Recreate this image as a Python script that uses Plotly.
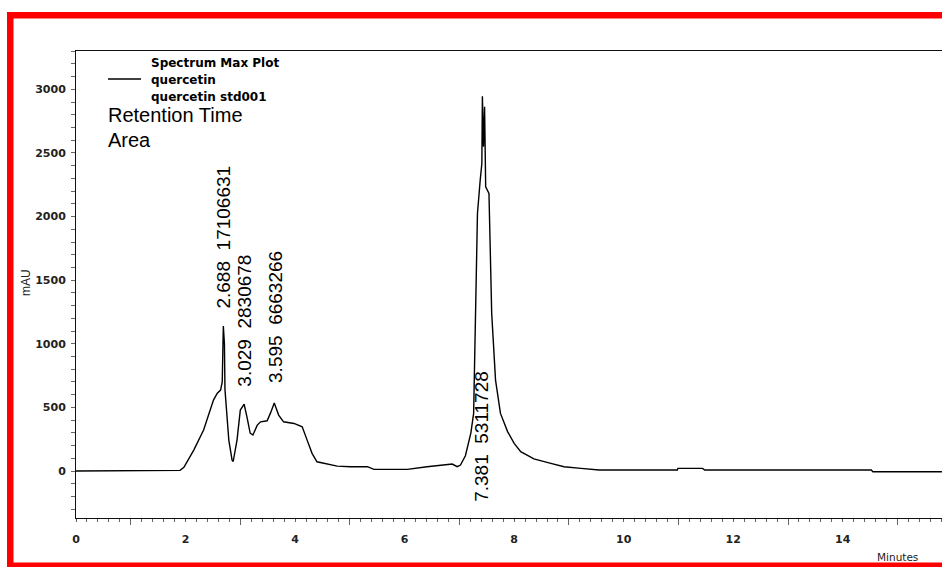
import plotly.graph_objects as go

# ---- data ----
time_min = [0, 1.90, 1.97, 2.15, 2.33, 2.51, 2.58, 2.64, 2.67, 2.69, 2.71, 2.72, 2.79, 2.85,
            2.87, 2.94, 3.00, 3.05, 3.07, 3.12, 3.18, 3.23, 3.31, 3.37, 3.49, 3.55, 3.62,
            3.70, 3.79, 3.98, 4.13, 4.22, 4.31, 4.40, 4.52, 4.77, 5.01, 5.32, 5.44, 6.05,
            6.41, 6.72, 6.87, 6.96, 7.02, 7.11, 7.18, 7.21, 7.26, 7.28, 7.30, 7.33, 7.38,
            7.41, 7.42, 7.44, 7.46, 7.48, 7.54, 7.56, 7.59, 7.66, 7.75, 7.88, 8.00, 8.12,
            8.36, 8.67, 8.91, 9.22, 9.55, 10.98, 10.99, 11.44, 11.48, 14.52, 14.55, 15.81]
mau = [0, 5, 30, 165, 322, 558, 612, 636, 700, 1140, 1000, 640, 243, 86,
       75, 243, 479, 518, 525, 427, 298, 283, 361, 387, 395, 455, 535,
       440, 387, 374, 348, 243, 139, 73, 60, 39, 34, 34, 13, 13,
       34, 47, 55, 34, 47, 120, 250, 300, 453, 846, 1500, 2024, 2286,
       2417, 2946, 2548, 2862, 2233, 2181, 1762, 1239, 715, 453, 310, 218, 152,
       95, 60, 34, 21, 8, 8, 21, 21, 8, 8, -5, -5]

peak_rt = [2.688, 3.029, 3.595, 7.381]
peak_area = [17106631, 2830678, 6663266, 5311728]
label_base = [1260, 645, 675, -255]          # mAU where each rotated label starts
label_x = [2.69, 3.08, 3.63, 7.41]

y_major = [0, 500, 1000, 1500, 2000, 2500, 3000]
x_major = [0, 2, 4, 6, 8, 10, 12, 14]
x_odd = [1, 3, 5, 7, 9, 11, 13, 15]

W, H = 942, 568
L, R, T, B = 76, 0, 51, 50
PW, PH = W - L - R, H - T - B

def px(xp):
    return (xp - L) / PW

def py(yp):
    return (H - B - yp) / PH

FONT = "Arial, Liberation Sans, sans-serif"
BFONT = "DejaVu Sans, sans-serif"

fig = go.Figure()
fig.add_trace(go.Scatter(x=time_min, y=mau, mode="lines",
                         line=dict(color="black", width=1.4), hoverinfo="skip",
                         showlegend=False))
# invisible trace for secondary tick axis
fig.add_trace(go.Scatter(x=[0], y=[0], xaxis="x2", mode="markers",
                         marker=dict(opacity=0), showlegend=False, hoverinfo="skip"))

annotations = []
for rt, area, yb, xl in zip(peak_rt, peak_area, label_base, label_x):
    annotations.append(dict(
        x=xl, y=yb, xref="x", yref="y", text=f"{rt:.3f}  {area}",
        textangle=-90, xanchor="center", yanchor="bottom", showarrow=False,
        font=dict(family=FONT, size=19, color="black")))

legend_items = [
    ("<b>Spectrum Max Plot</b>", 149, 63, 12, BFONT),
    ("<b>quercetin</b>", 149, 80, 12, BFONT),
    ("<b>quercetin std001</b>", 149, 97, 12, BFONT),
    ("Retention Time", 106, 115, 20, FONT),
    ("Area", 106, 140, 20, FONT),
]
for txt, xx, yy, sz, fam in legend_items:
    annotations.append(dict(x=px(xx), y=py(yy), xref="paper", yref="paper", text=txt,
                            xanchor="left", yanchor="middle", showarrow=False,
                            font=dict(family=fam, size=sz, color="black")))

annotations.append(dict(x=px(26), y=py(283), xref="paper", yref="paper", text="mAU",
                        textangle=-90, showarrow=False, xanchor="center", yanchor="middle",
                        font=dict(family=FONT, size=12, color="#222")))
annotations.append(dict(x=px(897), y=py(557), xref="paper", yref="paper", text="Minutes",
                        showarrow=False, xanchor="center", yanchor="middle",
                        font=dict(family=BFONT, size=10.5, color="#222")))

shapes = [
    # legend line sample
    dict(type="line", xref="paper", yref="paper", x0=px(108), x1=px(141),
         y0=py(79), y1=py(79), line=dict(color="black", width=1.4)),
    # red frame
    dict(type="rect", xref="paper", yref="paper", x0=px(7), x1=px(13.5), y0=py(566), y1=py(12),
         fillcolor="#FF0000", line=dict(width=0), layer="above"),
    dict(type="rect", xref="paper", yref="paper", x0=px(7), x1=px(W + 5), y0=py(18.5), y1=py(12),
         fillcolor="#FF0000", line=dict(width=0), layer="above"),
    dict(type="rect", xref="paper", yref="paper", x0=px(7), x1=px(W + 5), y0=py(567), y1=py(562.5),
         fillcolor="#FF0000", line=dict(width=0), layer="above"),
]

fig.update_layout(
    width=W, height=H,
    margin=dict(l=L, r=R, t=T, b=B),
    paper_bgcolor="white", plot_bgcolor="white",
    showlegend=False,
    annotations=annotations, shapes=shapes,
    xaxis=dict(range=[0, (W - L - R) / 54.77], showgrid=False, zeroline=False,
               showline=True, linecolor="#111", linewidth=1, mirror=True,
               tickvals=x_major, ticktext=[str(v) for v in x_major],
               ticks="outside", ticklen=1, tickcolor="#555",
               ticklabelstandoff=10,
               tickfont=dict(family=BFONT, size=11, color="#222", weight="bold"),
               minor=dict(dtick=0.2, ticks="outside", ticklen=3, tickcolor="#666")),
    xaxis2=dict(overlaying="x", matches="x", anchor="y", side="bottom",
                tickvals=x_odd, showticklabels=False, ticks="outside", ticklen=6,
                tickcolor="#666", showgrid=False, zeroline=False, showline=False),
    yaxis=dict(range=[-369, 3301], showgrid=False, zeroline=False,
               showline=True, linecolor="#111", linewidth=1,
               tickvals=y_major, ticktext=[str(v) for v in y_major],
               ticks="outside", ticklen=4, tickcolor="#666",
               ticklabelstandoff=3,
               tickfont=dict(family=BFONT, size=11, color="#222", weight="bold"),
               minor=dict(dtick=100, ticks="outside", ticklen=4, tickcolor="#666")),
)

fig.write_html("out.html")
